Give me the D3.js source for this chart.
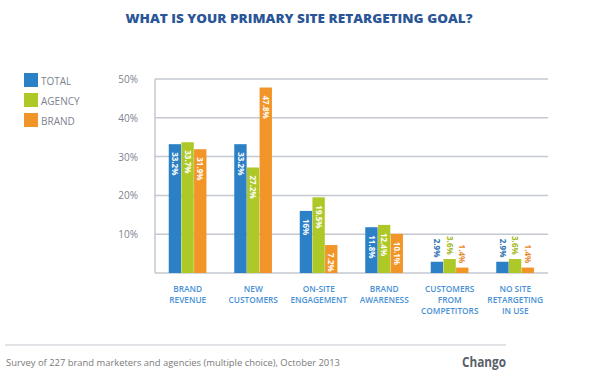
<!DOCTYPE html>
<html><head><meta charset="utf-8">
<script src="https://cdn.jsdelivr.net/npm/d3@7"></script>
<style>body{margin:0;background:#fff}svg{display:block}text{font-family:"Open Sans","Lato",sans-serif}</style>
</head><body><div id="chart"></div>
<script>
const categories = [["BRAND","REVENUE"],["NEW","CUSTOMERS"],["ON-SITE","ENGAGEMENT"],["BRAND","AWARENESS"],["CUSTOMERS","FROM","COMPETITORS"],["NO SITE","RETARGETING","IN USE"]];
const seriesNames = ["TOTAL","AGENCY","BRAND"];
const totalValues = [33.2, 33.2, 16, 11.8, 2.9, 2.9];
const agencyValues = [33.7, 27.2, 19.5, 12.4, 3.6, 3.6];
const brandValues = [31.9, 47.8, 7.2, 10.1, 1.4, 1.4];
const valueLabels = [["33.2%","33.2%","16%","11.8%","2.9%","2.9%"],["33.7%","27.2%","19.5%","12.4%","3.6%","3.6%"],["31.9%","47.8%","7.2%","10.1%","1.4%","1.4%"]];
const yTicks = [10,20,30,40,50];
const colors = ["#2b80c6","#aec828","#f29529"];
const labelColors = ["#2a6fb0","#9fb820","#e8892a"];

const W=600,H=378;
const svg=d3.select("#chart").append("svg").attr("width",W).attr("height",H);
const x0=155,x1=548,yTop=79,yBot=273;
const y=d3.scaleLinear().domain([0,50]).range([yBot,yTop]);
const xb=d3.scaleBand().domain(d3.range(categories.length)).range([x0,x1]).paddingInner(0.42).paddingOuter(0.21);
const xs=d3.scaleBand().domain(d3.range(3)).range([0,xb.bandwidth()]);
const series=[totalValues,agencyValues,brandValues];

// title
svg.append("text").attr("x",299).attr("y",23).attr("text-anchor","middle")
 .attr("font-size",12.5).attr("font-weight",800).attr("fill","#2a5597")
 .attr("textLength",347).attr("lengthAdjust","spacingAndGlyphs")
 .text("WHAT IS YOUR PRIMARY SITE RETARGETING GOAL?");

// gridlines
svg.append("g").selectAll("line").data(yTicks).join("line")
 .attr("x1",x0).attr("x2",x1).attr("y1",d=>y(d)).attr("y2",d=>y(d))
 .attr("stroke","#c3c8d0").attr("stroke-width",1.5);
svg.append("line").attr("x1",x0).attr("x2",x0).attr("y1",yTop).attr("y2",yBot).attr("stroke","#c3c8d0").attr("stroke-width",1.5);
svg.append("line").attr("x1",x0).attr("x2",x1).attr("y1",yBot).attr("y2",yBot).attr("stroke","#c3c8d0").attr("stroke-width",1.5);

// y tick labels
svg.append("g").selectAll("text").data(yTicks).join("text")
 .attr("x",138).attr("y",d=>y(d)+4).attr("text-anchor","end")
 .attr("font-size",10).attr("fill","#7d8290").text(d=>d+"%");

// bars
series.forEach((vals,si)=>{
  const g=svg.append("g");
  g.selectAll("rect").data(vals).join("rect")
   .attr("x",(d,i)=>xb(i)+xs(si)).attr("width",xs.bandwidth()-0.3)
   .attr("y",d=>y(d)).attr("height",d=>yBot-y(d)).attr("fill",colors[si]);
  g.selectAll("text").data(vals).join("text")
   .attr("transform",(d,i)=>{
     const cx=xb(i)+xs(si)+xs.bandwidth()/2-3;
     const inside=d>5;
     const ty= inside? y(d)+8 : y(d)-23;
     return `translate(${cx},${ty}) rotate(90)`;})
   .attr("font-size",8).attr("font-weight",700)
   .attr("fill",(d)=> d>5?"#ffffff":labelColors[si])
   .text((d,i)=>valueLabels[si][i]);
});

// category labels
const cg=svg.append("g");
categories.forEach((lines,i)=>{
  const t=cg.append("text").attr("text-anchor","middle").attr("font-size",8.3).attr("font-weight",600).attr("fill","#4891d6");
  lines.forEach((l,k)=>t.append("tspan").attr("x",xb(i)+xb.bandwidth()/2).attr("y",292+k*11.2).text(l));
});

// legend
const lg=svg.append("g");
seriesNames.forEach((n,i)=>{
  lg.append("rect").attr("x",24).attr("y",73+i*20).attr("width",14).attr("height",14).attr("fill",colors[i]);
  lg.append("text").attr("x",41).attr("y",84.5+i*20).attr("font-size",10).attr("fill","#7d8290").text(n);
});

// footer
svg.append("line").attr("x1",5).attr("x2",506).attr("y1",345).attr("y2",345).attr("stroke","#c3c8d0").attr("stroke-width",1.2);
svg.append("text").attr("x",6).attr("y",366).attr("font-size",9.5).attr("fill","#7a7a7a")
 .attr("textLength",334).attr("lengthAdjust","spacingAndGlyphs")
 .text("Survey of 227 brand marketers and agencies (multiple choice), October 2013");
svg.append("text").attr("x",506).attr("y",367).attr("text-anchor","end").attr("font-size",14).attr("font-weight",700).attr("fill","#5a5f6a")
 .attr("textLength",44).attr("lengthAdjust","spacingAndGlyphs").text("Chango");
</script></body></html>
